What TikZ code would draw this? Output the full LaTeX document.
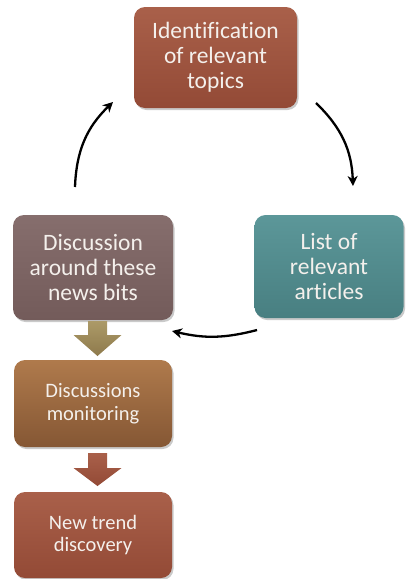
\documentclass[tikz,border=0pt]{standalone}
\usepackage{fontspec}
\setmainfont[Ligatures=NoCommon]{Carlito}
\usetikzlibrary{arrows.meta,shadows}
\definecolor{txt}{HTML}{F4F0EC}
\definecolor{rustT}{HTML}{A9604A}
\definecolor{rustB}{HTML}{934A36}
\definecolor{tealT}{HTML}{5C9799}
\definecolor{tealB}{HTML}{487F81}
\definecolor{mauveT}{HTML}{866E6D}
\definecolor{mauveB}{HTML}{735B5A}
\definecolor{ochreT}{HTML}{AF7A4C}
\definecolor{ochreB}{HTML}{855734}
\definecolor{oliveT}{HTML}{AC9A68}
\definecolor{oliveB}{HTML}{8E7A4C}
\tikzset{
  box/.style={rounded corners=11pt, draw=none, text=txt, align=center,
    inner sep=0pt, font=\fontsize{23.5}{25}\selectfont,
    drop shadow={shadow xshift=1.5pt, shadow yshift=-2pt, opacity=0.35, fill=black!60}},
  smallbox/.style={box, font=\fontsize{20.5}{22.5}\selectfont},
  curve/.style={line width=2.3pt, -{Stealth[length=10pt,width=10pt,inset=3pt]}},
  blockarrow/.style={draw=none}
}
% down-pointing block arrow: #1 = centre x, #2 = shaft top, #3 = head top, #4 = tip
\newcommand{\downarrowshape}[4]{%
  (#1-9.5,#2) -- (#1+9.5,#2) -- (#1+9.5,#3) -- (#1+24,#3) -- (#1,#4)
  -- (#1-24,#3) -- (#1-9.5,#3) -- cycle}
\begin{document}
\begin{tikzpicture}[x=1pt,y=-1pt]
\useasboundingbox (0,0) rectangle (406,579);

% cycle boxes
\node[box, minimum width=163pt, minimum height=101pt, top color=rustT, bottom color=rustB]
  (ident) at (215.5,57.5) {Identification\\of relevant\\topics};
\node[box, minimum width=149pt, minimum height=103pt, top color=tealT, bottom color=tealB]
  (list) at (329,266.5) {List of\\relevant\\articles};
\node[box, minimum width=160pt, minimum height=105pt, top color=mauveT, bottom color=mauveB]
  (disc) at (93,267.5) {Discussion\\around these\\news bits};

% process boxes
\node[smallbox, minimum width=158pt, minimum height=87pt, top color=ochreT, bottom color=ochreB]
  (mon) at (93,403.5) {Discussions\\monitoring};
\node[smallbox, minimum width=158pt, minimum height=86pt, top color=rustT, bottom color=rustB]
  (trend) at (93,535) {New trend\\discovery};

% block arrows between process boxes
\path[blockarrow, top color=oliveT, bottom color=oliveB] \downarrowshape{97.5}{321}{335}{356};
\path[blockarrow, top color=rustT, bottom color=rustB] \downarrowshape{97.5}{453}{468}{486};

% cycle connectors
\coordinate (c1s) at (316,103);
\coordinate (c1e) at (353,186);
\coordinate (c2s) at (257,330);
\coordinate (c2e) at (172,331);
\coordinate (c3s) at (75,187);
\coordinate (c3e) at (113,102);
\draw[curve] (c1s) to[bend left=22] (c1e);
\draw[curve] (c2s) to[bend left=14] (c2e);
\draw[curve] (c3s) to[bend left=22] (c3e);
\end{tikzpicture}
\end{document}
